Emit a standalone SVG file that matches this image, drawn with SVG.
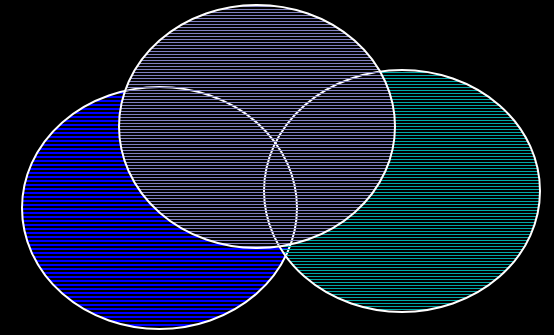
<svg xmlns="http://www.w3.org/2000/svg" width="554" height="335" viewBox="0 0 554 335">
  <defs>
    <pattern id="hBlue" patternUnits="userSpaceOnUse" x="0" y="0" width="10" height="4">
      <rect x="0" y="0" width="10" height="2" fill="#0000ff" shape-rendering="crispEdges"/>
    </pattern>
    <pattern id="hTeal" patternUnits="userSpaceOnUse" x="0" y="0" width="10" height="3">
      <rect x="0" y="0" width="10" height="1" fill="#00a8a8" shape-rendering="crispEdges"/>
    </pattern>
    <pattern id="hLav" patternUnits="userSpaceOnUse" x="0" y="0" width="10" height="3">
      <rect x="0" y="0" width="10" height="3" fill="#030303"/>
      <rect x="0" y="0" width="10" height="1" fill="#8080c0" shape-rendering="crispEdges"/>
    </pattern>
    <pattern id="gapPat" patternUnits="userSpaceOnUse" x="0" y="0" width="10" height="3">
      <rect x="0" y="1" width="10" height="2" fill="#fff" shape-rendering="crispEdges"/>
    </pattern>
    <mask id="gapMask" maskUnits="userSpaceOnUse" x="0" y="0" width="554" height="335">
      <ellipse cx="257" cy="126.5" rx="137" ry="120.5" fill="url(#gapPat)"/>
    </mask>
  </defs>
  <style>
    .ring { stroke: #ffffff; stroke-width: 2; }
    .line { fill: none; stroke: #ffffff; stroke-width: 2; }
  </style>
  <rect x="0" y="0" width="554" height="335" fill="#000"/>
  <g id="set-blue">
    <ellipse class="ring" cx="159.5" cy="208" rx="137.5" ry="121" fill="url(#hBlue)"/>
  </g>
  <g id="set-teal">
    <ellipse class="ring" cx="402" cy="191" rx="138" ry="121" fill="url(#hTeal)"/>
  </g>
  <g id="set-top">
    <ellipse class="ring" cx="257" cy="126.5" rx="138" ry="121.5" fill="url(#hLav)"/>
  </g>
  <g id="hidden-outlines" mask="url(#gapMask)">
    <ellipse class="line" cx="159.5" cy="208" rx="137.5" ry="121"/>
    <ellipse class="line" cx="402" cy="191" rx="138" ry="121"/>
  </g>
</svg>
